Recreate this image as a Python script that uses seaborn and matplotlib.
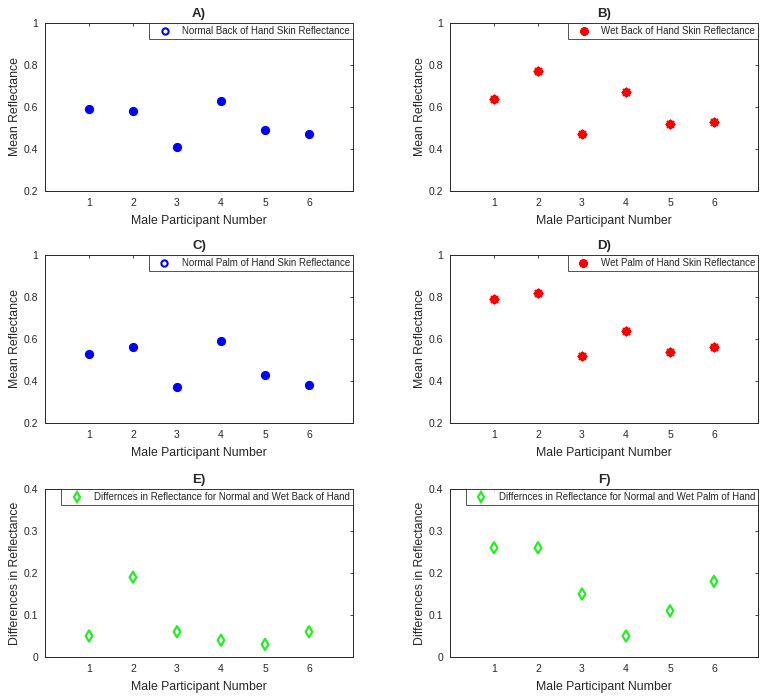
import numpy as np
import pandas as pd
import matplotlib
matplotlib.use('Agg')
import matplotlib.pyplot as plt
from matplotlib.lines import Line2D
import seaborn as sns

sns.set_style('white')
plt.rcParams['font.family'] = ['Liberation Sans', 'DejaVu Sans']

# 데이터
participants = [1, 2, 3, 4, 5, 6]
normal_back = [0.59, 0.58, 0.41, 0.63, 0.49, 0.47]
wet_back = [0.64, 0.77, 0.47, 0.67, 0.52, 0.53]
normal_palm = [0.53, 0.56, 0.37, 0.59, 0.43, 0.38]
wet_palm = [0.79, 0.82, 0.52, 0.64, 0.54, 0.56]
diff_back = [0.05, 0.19, 0.06, 0.04, 0.03, 0.06]
diff_palm = [0.26, 0.26, 0.15, 0.05, 0.11, 0.18]

panel_titles = ['A)', 'B)', 'C)', 'D)', 'E)', 'F)']
legend_labels = [
    'Normal Back of Hand Skin Reflectance',
    'Wet Back of Hand Skin Reflectance',
    'Normal Palm of Hand Skin Reflectance',
    'Wet Palm of Hand Skin Reflectance',
    'Differnces in Reflectance for Normal and Wet Back of Hand',
    'Differnces in Reflectance for Normal and Wet Palm of Hand',
]
series = [normal_back, wet_back, normal_palm, wet_palm, diff_back, diff_palm]

BLUE = '#0000ff'
RED = '#ff0000'
GREEN = '#22ee22'
TXT = '#262626'
ASTERISK = (8, 2, 0)

W, H = 769, 699
fig = plt.figure(figsize=(W / 100, H / 100), dpi=100)

lefts = [45, 450]
tops = [23, 255, 489]
ax_w, ax_h = 308, 168


def style_axes(ax, ylim, yticks, ylabel, title):
    ax.set_xlim(0, 7)
    ax.set_xticks(participants)
    ax.set_ylim(*ylim)
    ax.set_yticks(yticks)
    ax.set_yticklabels([f'{t:g}' for t in yticks])
    ax.tick_params(direction='in', length=2.5, width=0.6, top=True, right=True,
                   labelsize=7.5, colors=TXT, pad=5)
    for sp in ax.spines.values():
        sp.set_color(TXT)
        sp.set_linewidth(0.7)
    ax.set_xlabel('Male Participant Number', fontsize=8.8, color=TXT, labelpad=5)
    ax.set_ylabel(ylabel, fontsize=8.8, color=TXT, labelpad=1.5)
    ax.set_title(title, fontsize=9.5, fontweight='bold', pad=4)


for i, vals in enumerate(series):
    row, col = divmod(i, 2)
    left = lefts[col] / W
    bottom = 1 - (tops[row] + ax_h) / H
    ax = fig.add_axes([left, bottom, ax_w / W, ax_h / H])
    df = pd.DataFrame({'participant': participants, 'value': vals})

    if col == 0 and row < 2:
        sns.scatterplot(data=df, x='participant', y='value', ax=ax, marker='o',
                        color=BLUE, edgecolor=BLUE, s=34, linewidth=0.8)
        handle = Line2D([], [], ls='none', marker='o', markersize=4.5,
                        markerfacecolor='white', markeredgecolor=BLUE, markeredgewidth=1.5)
    elif row < 2:
        sns.scatterplot(data=df, x='participant', y='value', ax=ax, marker=ASTERISK,
                        color=RED, s=26, linewidth=2.0)
        handle = Line2D([], [], ls='none', marker=ASTERISK, markersize=6,
                        color=RED, markeredgewidth=2.0)
    else:
        sns.scatterplot(data=df, x='participant', y='value', ax=ax, marker='d',
                        facecolor='none', edgecolor=GREEN, s=32, linewidth=1.6)
        handle = Line2D([], [], ls='none', marker='d', markersize=5.5,
                        markerfacecolor='none', markeredgecolor=GREEN, markeredgewidth=1.6)

    if row < 2:
        style_axes(ax, (0.2, 1.0), [0.2, 0.4, 0.6, 0.8, 1.0], 'Mean Reflectance', panel_titles[i])
    else:
        style_axes(ax, (0.0, 0.4), [0, 0.1, 0.2, 0.3, 0.4], 'Differences in Reflectance', panel_titles[i])

    leg = ax.legend([handle], [legend_labels[i]], loc='upper right', fontsize=7.0,
                    frameon=True, fancybox=False, borderaxespad=0, borderpad=0.3,
                    handletextpad=0.5, handlelength=2.6)
    leg.get_frame().set_edgecolor(TXT)
    leg.get_frame().set_linewidth(0.7)

fig.savefig('out.png', dpi=100)
